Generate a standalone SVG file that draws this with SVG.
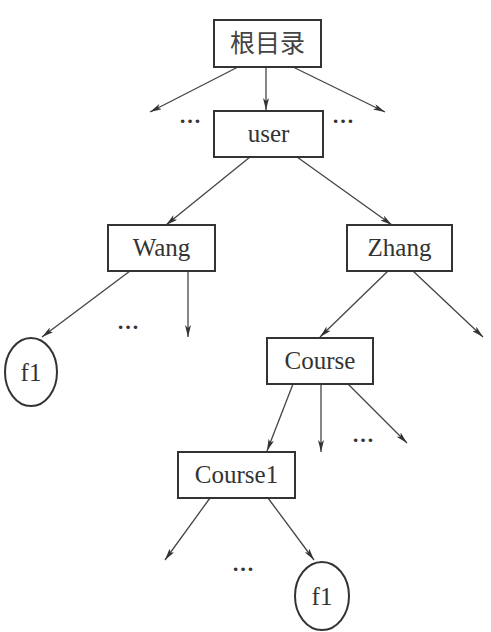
<svg xmlns="http://www.w3.org/2000/svg" width="491" height="632" viewBox="0 0 491 632">
<defs>
<marker id="ah" viewBox="0 0 12 6" refX="12" refY="3" markerWidth="12" markerHeight="6" markerUnits="userSpaceOnUse" orient="auto">
<path d="M0,0 L12,3 L0,6 L3,3 Z" fill="#333"/>
</marker>
<style>
.box{fill:#fff;stroke:#333;stroke-width:2}
.t{font-family:"Liberation Serif","Times New Roman",serif;font-size:25px;fill:#333;text-anchor:middle}
.cn{font-family:"Liberation Serif","Noto Sans CJK SC",serif;font-size:25px;fill:#444;text-anchor:middle}
.c{stroke:#444;stroke-width:1.3;fill:none;marker-end:url(#ah)}
.d{font-family:"Liberation Serif",serif;font-size:22px;font-weight:bold;fill:#333;text-anchor:middle}
</style>
</defs>
<rect width="491" height="632" fill="#fff"/>
<g id="connectors">
<line class="c" x1="238" y1="67" x2="150" y2="112"/>
<line class="c" x1="266" y1="67" x2="266" y2="110"/>
<line class="c" x1="293" y1="67" x2="385" y2="112"/>
<line class="c" x1="250" y1="157" x2="166" y2="225"/>
<line class="c" x1="297" y1="157" x2="392" y2="225"/>
<line class="c" x1="130" y1="271" x2="42" y2="337"/>
<line class="c" x1="188" y1="271" x2="188" y2="337"/>
<line class="c" x1="388" y1="271" x2="320" y2="337"/>
<line class="c" x1="413" y1="271" x2="483" y2="337"/>
<line class="c" x1="293" y1="384" x2="267" y2="451"/>
<line class="c" x1="321" y1="384" x2="321" y2="452"/>
<line class="c" x1="348" y1="384" x2="407" y2="443"/>
<line class="c" x1="210" y1="498" x2="165" y2="560"/>
<line class="c" x1="268" y1="498" x2="314" y2="560"/>
</g>
<g id="dots">
<text class="d" x="190" y="123">…</text>
<text class="d" x="343" y="123">…</text>
<text class="d" x="128" y="329">…</text>
<text class="d" x="363" y="442">…</text>
<text class="d" x="243" y="571">…</text>
</g>
<g id="root"><rect class="box" x="214" y="20" width="107" height="47"/><text class="cn" x="267.5" y="52">根目录</text></g>
<g id="user"><rect class="box" x="214" y="111" width="109" height="46"/><text class="t" x="268.5" y="142">user</text></g>
<g id="wang"><rect class="box" x="108" y="225" width="107" height="46"/><text class="t" x="161.5" y="256">Wang</text></g>
<g id="zhang"><rect class="box" x="347" y="225" width="105" height="46"/><text class="t" x="399.5" y="256">Zhang</text></g>
<g id="f1a"><ellipse class="box" cx="31" cy="372" rx="26" ry="34"/><text class="t" x="31" y="381">f1</text></g>
<g id="course"><rect class="box" x="267" y="338" width="106" height="46"/><text class="t" x="320" y="369">Course</text></g>
<g id="course1"><rect class="box" x="178" y="452" width="117" height="46"/><text class="t" x="236.5" y="483">Course1</text></g>
<g id="f1b"><ellipse class="box" cx="322" cy="596" rx="27" ry="34"/><text class="t" x="322" y="605">f1</text></g>
</svg>
